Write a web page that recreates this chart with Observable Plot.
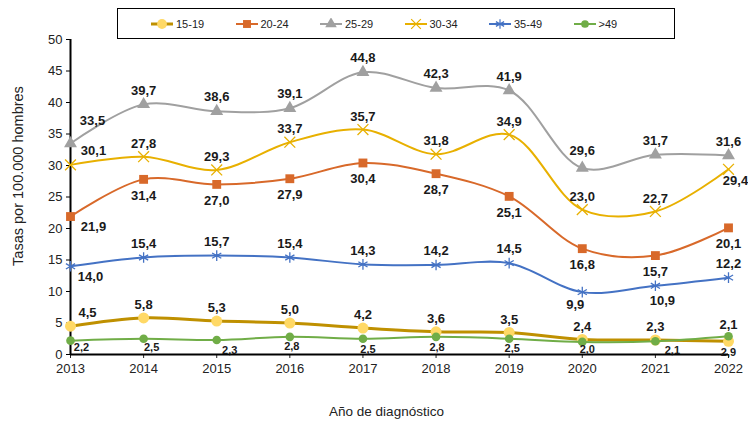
<!DOCTYPE html>
<html>
<head>
<meta charset="utf-8">
<script src="https://cdn.jsdelivr.net/npm/d3@7"></script>
<script src="https://cdn.jsdelivr.net/npm/@observablehq/plot@0.6"></script>
<style>
  html, body { margin: 0; padding: 0; background: #fff; }
  #wrap { position: relative; width: 748px; height: 425px; font-family: "Liberation Sans", Arial, sans-serif; }
  #legend { position: absolute; left: 117px; top: 8px; width: 558px; height: 31px; border: 1.5px solid #000; background: #fff; box-sizing: border-box; display: flex; align-items: center; padding-left: 33px; }
  .item { width: 84.5px; display: flex; align-items: center; font-size: 11px; color: #222; }
  .item svg { margin-right: 3px; }
</style>
</head>
<body>
<div id="wrap"><div id="legend"></div></div>
<script>
const years = [2013, 2014, 2015, 2016, 2017, 2018, 2019, 2020, 2021, 2022];
const seriesNames = ["15-19", "20-24", "25-29", "30-34", "35-49", ">49"];

const v15_19 = [4.5, 5.8, 5.3, 5.0, 4.2, 3.6, 3.5, 2.4, 2.3, 2.1];
const v20_24 = [21.9, 27.8, 27.0, 27.9, 30.4, 28.7, 25.1, 16.8, 15.7, 20.1];
const v25_29 = [33.5, 39.7, 38.6, 39.1, 44.8, 42.3, 41.9, 29.6, 31.7, 31.6];
const v30_34 = [30.1, 31.4, 29.3, 33.7, 35.7, 31.8, 34.9, 23.0, 22.7, 29.4];
const v35_49 = [14.0, 15.4, 15.7, 15.4, 14.3, 14.2, 14.5, 9.9, 10.9, 12.2];
const v49 = [2.2, 2.5, 2.3, 2.8, 2.5, 2.8, 2.5, 2.0, 2.1, 2.9];

// data labels as printed on the chart
const l15_19 = ["4,5", "5,8", "5,3", "5,0", "4,2", "3,6", "3,5", "2,4", "2,3", "2,1"];
const l20_24 = ["21,9", "31,4", "27,0", "27,9", "30,4", "28,7", "25,1", "16,8", "15,7", "20,1"];
const l25_29 = ["33,5", "39,7", "38,6", "39,1", "44,8", "42,3", "41,9", "29,6", "31,7", "31,6"];
const l30_34 = ["30,1", "27,8", "29,3", "33,7", "35,7", "31,8", "34,9", "23,0", "22,7", "29,4"];
const l35_49 = ["14,0", "15,4", "15,7", "15,4", "14,3", "14,2", "14,5", "9,9", "10,9", "12,2"];
const l49 = ["2,2", "2,5", "2,3", "2,8", "2,5", "2,8", "2,5", "2,0", "2,1", "2,9"];

const yTicks = [0, 5, 10, 15, 20, 25, 30, 35, 40, 45, 50];
const yTitle = "Tasas por 100.000 hombres";
const xTitle = "Año de diagnóstico";

const valuesBy = {"15-19": v15_19, "20-24": v20_24, "25-29": v25_29, "30-34": v30_34, "35-49": v35_49, ">49": v49};
const labelsBy = {"15-19": l15_19, "20-24": l20_24, "25-29": l25_29, "30-34": l30_34, "35-49": l35_49, ">49": l49};

const style = {
  "15-19": {line: "#BF9000", sw: 3, symbol: "circle", fill: "#FFD966", stroke: "none", r: 5.5},
  "20-24": {line: "#D8692A", sw: 2, symbol: "square", fill: "#D8692A", stroke: "none", r: 5},
  "25-29": {line: "#A0A0A0", sw: 2, symbol: "triangle", fill: "#A0A0A0", stroke: "none", r: 4.8},
  "30-34": {line: "#E8B000", sw: 2, symbol: "times", fill: "none", stroke: "#E8B000", r: 5},
  "35-49": {line: "#4472C4", sw: 2, symbol: "asterisk", fill: "none", stroke: "#4472C4", r: 5},
  ">49":   {line: "#70AD47", sw: 2, symbol: "circle", fill: "#70AD47", stroke: "none", r: 4.3}
};

// label placement (pixel offsets from each point)
function labelOffset(s, year) {
  switch (s) {
    case "15-19":
      if (year === 2013) return {dx: 17, dy: -13};
      return {dx: 0, dy: year === 2022 ? -16 : -13};
    case "20-24": return year === 2013 ? {dx: 23, dy: 10} : {dx: 0, dy: 16};
    case "25-29": return year === 2013 ? {dx: 22, dy: -23} : {dx: 0, dy: year === 2020 ? -17 : -14};
    case "30-34":
      if (year === 2013) return {dx: 23, dy: -14};
      if (year === 2022) return {dx: 7, dy: 12};
      return {dx: 0, dy: -13};
    case "35-49":
      if (year === 2013) return {dx: 20, dy: 11};
      if (year === 2020) return {dx: -7, dy: 13};
      if (year === 2021) return {dx: 7, dy: 15};
      return {dx: 0, dy: -14};
    case ">49": {
      const dxs = {2013: 11, 2014: 8, 2015: 13, 2016: 2, 2017: 5, 2018: 1, 2019: 3, 2020: 5, 2021: 17, 2022: 0};
      const dys = {2013: 7, 2014: 9, 2015: 10, 2016: 10, 2017: 11, 2018: 11, 2019: 10, 2020: 8, 2021: 9, 2022: 16};
      return {dx: dxs[year], dy: dys[year]};
    }
  }
}

const data = [];
for (const s of seriesNames) {
  years.forEach((y, i) => {
    const o = labelOffset(s, y);
    data.push({series: s, year: y, value: valuesBy[s][i], label: labelsBy[s][i], dx: o.dx, dy: o.dy});
  });
}

const marks = [
  Plot.axisY({ticks: yTicks, tickSize: 4, tickPadding: 4, fontSize: 13, label: null, stroke: "#000", color: "#222"}),
  Plot.axisX({ticks: years, tickFormat: d => String(d), tickSize: 4, tickPadding: 5, fontSize: 13, label: null, color: "#222"}),
  Plot.ruleX([2013], {stroke: "#000", strokeWidth: 2}),
  Plot.ruleY([0], {stroke: "#000", strokeWidth: 2}),
  Plot.text([yTitle], {frameAnchor: "left", textAnchor: "middle", dx: -52, dy: -21, rotate: -90, fontSize: 14.5, fill: "#222", text: d => d}),
  Plot.text([xTitle], {frameAnchor: "bottom", dy: 61, dx: -13, fontSize: 13.5, fill: "#222", text: d => d})
];

for (const s of seriesNames) {
  const st = style[s];
  const d = data.filter(r => r.series === s);
  marks.push(Plot.line(d, {x: "year", y: "value", stroke: st.line, strokeWidth: st.sw, curve: "catmull-rom"}));
  marks.push(Plot.dot(d, {x: "year", y: "value", symbol: st.symbol, r: st.r, fill: st.fill, stroke: st.stroke, strokeWidth: 1.3}));
}
for (const s of seriesNames) {
  const d = data.filter(r => r.series === s);
  for (const r of d) {
    marks.push(Plot.text([r], {x: "year", y: "value", text: "label", dx: r.dx, dy: r.dy,
      fontWeight: "bold", fontSize: s === ">49" ? 11 : 13, fill: "#1a1a1a"}));
  }
}

const chart = Plot.plot({
  width: 748,
  height: 425,
  marginLeft: 70,
  marginRight: 20,
  marginTop: 39,
  marginBottom: 71,
  style: {fontFamily: "'Liberation Sans', Arial, sans-serif", background: "#fff", overflow: "visible"},
  x: {domain: [2013, 2022]},
  y: {domain: [0, 50]},
  marks
});
document.getElementById("wrap").prepend(chart);

// legend
const legend = document.getElementById("legend");
for (const s of seriesNames) {
  const st = style[s];
  const item = document.createElement("div");
  item.className = "item";
  const sym = d3.symbol().type({circle: d3.symbolCircle, square: d3.symbolSquare, triangle: d3.symbolTriangle, times: d3.symbolTimes, asterisk: d3.symbolAsterisk}[st.symbol]).size(Math.PI * st.r * st.r * 0.8)();
  item.innerHTML = `<svg width="22" height="12"><line x1="0" x2="22" y1="6" y2="6" stroke="${st.line}" stroke-width="${st.sw}"/><path transform="translate(11,6)" d="${sym}" fill="${st.fill}" stroke="${st.stroke}" stroke-width="1.2"/></svg><span>${s}</span>`;
  legend.appendChild(item);
}
</script>
</body>
</html>
